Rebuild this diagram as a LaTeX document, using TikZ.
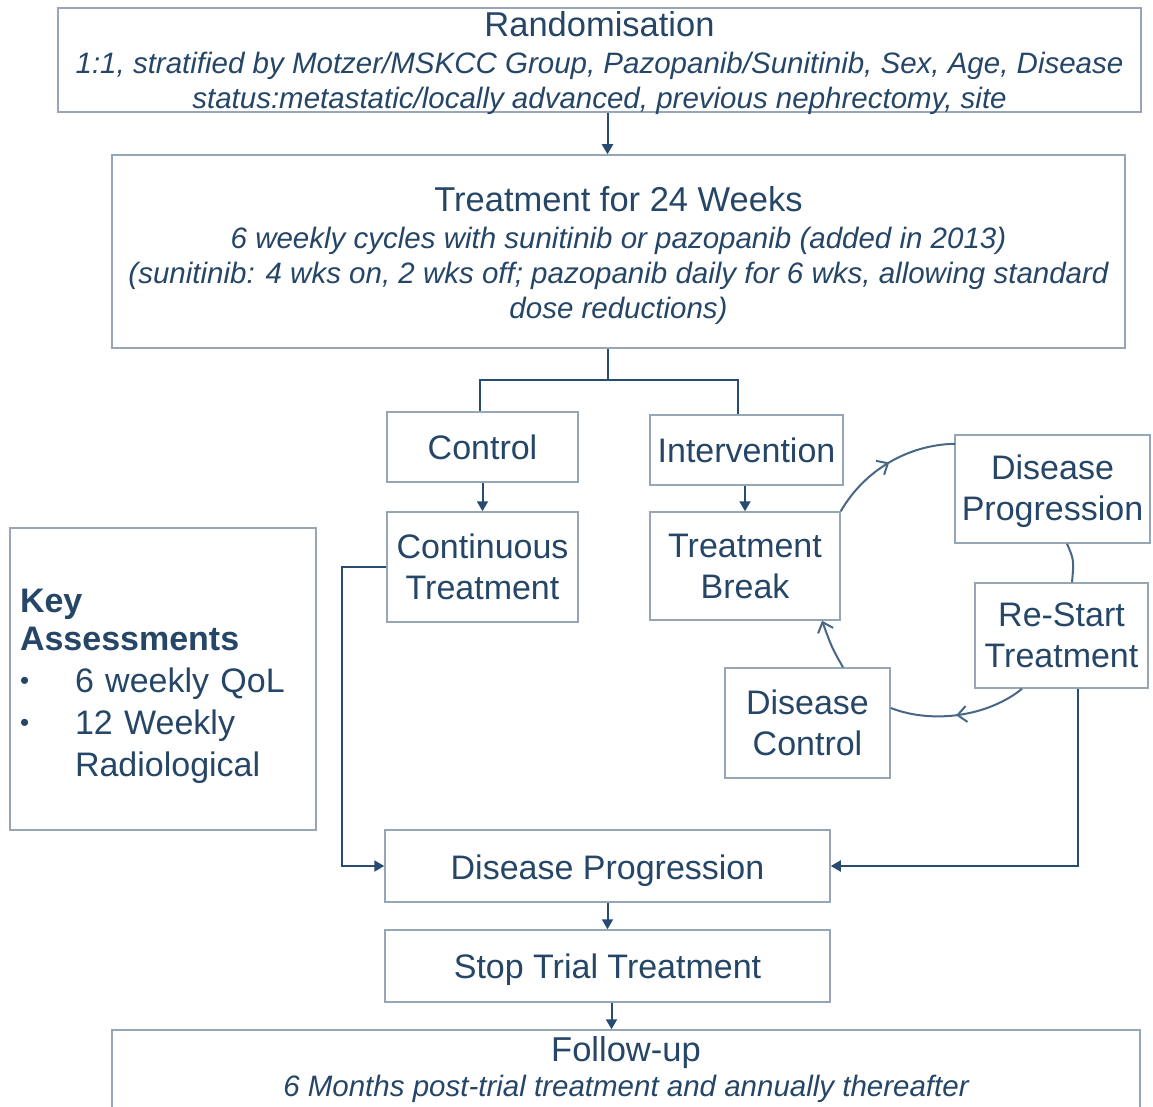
\documentclass[tikz,border=0pt]{standalone}
\usepackage{fontspec}
\setmainfont{Liberation Sans}
\usetikzlibrary{arrows.meta,decorations.markings,calc}
\definecolor{txtc}{RGB}{38,70,104}
\definecolor{boxc}{RGB}{150,166,182}
\definecolor{linec}{RGB}{40,76,112}
\begin{document}
\begin{tikzpicture}[x=1pt,y=1pt,
  box/.style={draw=boxc,line width=1.5pt,fill=white,text=txtc,align=center,inner sep=0pt,font=\fontsize{34}{41}\selectfont},
  bigbox/.style={box,font=\fontsize{29.5}{35}\selectfont\itshape},
  arr/.style={draw=linec,line width=2pt,-{Triangle[length=10pt,width=11pt]}},
  ln/.style={draw=linec,line width=2pt},
  cyc/.style={draw=linec!85,line width=2pt},
  barb/.style={-{Straight Barb[length=9pt,width=16pt,line width=2pt]}},
  midarrow/.style={postaction={decorate,decoration={markings,mark=at position #1 with {\arrow{Straight Barb[length=9pt,width=16pt,line width=2pt]}}}}}
]
\useasboundingbox (0,0) rectangle (1153,-1107);
\clip (0,0) rectangle (1153,-1107);
\fill[white] (0,0) rectangle (1153,-1107);

\node[bigbox,minimum width=1083,minimum height=104,text depth=0pt] (rand) at (599.5,-60)
  {{\upshape\fontsize{34.5}{35}\selectfont Randomisation}\\[2pt]
   1:1, stratified by Motzer/MSKCC Group, Pazopanib/Sunitinib, Sex, Age, Disease\\
   status:metastatic/locally advanced, previous nephrectomy, site};
\node[bigbox,minimum width=1013,minimum height=193] (treat) at (618.5,-251.5)
  {\rule{0pt}{33pt}{\upshape\fontsize{34.5}{35}\selectfont Treatment for 24 Weeks}\\[2pt]
   6 weekly cycles with sunitinib or pazopanib (added in 2013)\\
   (sunitinib: 4 wks on, 2 wks off; pazopanib daily for 6 wks, allowing standard\\
   dose reductions)};
\node[box,minimum width=191,minimum height=70] (ctrl) at (482.5,-447) {Control};
\node[box,minimum width=193,minimum height=70] (interv) at (746.5,-450) {Intervention};
\node[box,minimum width=191,minimum height=110] (cont) at (482.5,-567) {Continuous\\Treatment};
\node[box,minimum width=190,minimum height=108] (brk) at (745,-566) {Treatment\\Break};
\node[box,minimum width=195,minimum height=108] (dp2) at (1052.5,-489) {\rule{0pt}{30pt}Disease\\Progression};
\node[box,minimum width=173,minimum height=105] (restart) at (1061.5,-635.5) {Re-Start\\Treatment};
\node[box,minimum width=165,minimum height=110] (dctrl) at (807.5,-723) {Disease\\Control};
\node[box,minimum width=306,minimum height=302,align=left,text width=286,text height=38pt,font=\fontsize{34}{42}\selectfont] (key) at (163,-679)
  {\textbf{Key}\\[-4pt]
   \textbf{Assessments}\\
   \makebox[55pt][l]{\fontsize{26}{26}\selectfont\raisebox{3pt}{•}}6 weekly QoL\\
   \makebox[55pt][l]{\fontsize{26}{26}\selectfont\raisebox{3pt}{•}}12 Weekly\\
   \hspace*{55pt}Radiological};
\node[box,minimum width=445,minimum height=72,text height=34pt] (dprog) at (607.5,-866) {Disease Progression};
\node[box,minimum width=445,minimum height=72,text height=32.8pt] (stop) at (607.5,-966) {Stop Trial Treatment};
\node[bigbox,minimum width=1028,minimum height=80] (follow) at (626,-1070)
  {{\upshape\fontsize{34.5}{35}\selectfont Follow-up}\\
   6 Months post-trial treatment and annually thereafter};

\coordinate (split) at (607.5,-380);
\draw[arr] (rand.south -| dprog.north) -- (treat.north -| dprog.north);
\draw[ln] (treat.south -| split) -- (split);
\draw[ln] ([xshift=-2.5]ctrl.north) |- (split);
\draw[ln] (split) -| ([xshift=-9]interv.north);
\draw[arr] (ctrl.south) -- (cont.north);
\draw[arr] (interv.south -| brk.north) -- (brk.north);
\draw[arr] (cont.west) -- ++(-44,0) |- (dprog.west);
\draw[arr] ([xshift=16.5]restart.south) |- (dprog.east);
\draw[arr] (dprog.south) -- (stop.north);
\draw[arr] ([xshift=4]stop.south) -- ([xshift=4]stop.south |- follow.north);

\draw[cyc,midarrow=0.5] (brk.north east) arc[start angle=150,end angle=91,radius=135];
\draw[cyc] ([xshift=14.5]dp2.south) .. controls (1074,-560) .. ([xshift=10.5]restart.north);
\draw[cyc,midarrow=0.52] ([xshift=-39.5]restart.south) .. controls (990,-715) and (935,-725) .. ([yshift=15]dctrl.east);
\draw[cyc,barb] ([xshift=35.5]dctrl.north) .. controls (832,-648) .. ([xshift=77]brk.south);
\end{tikzpicture}
\end{document}
